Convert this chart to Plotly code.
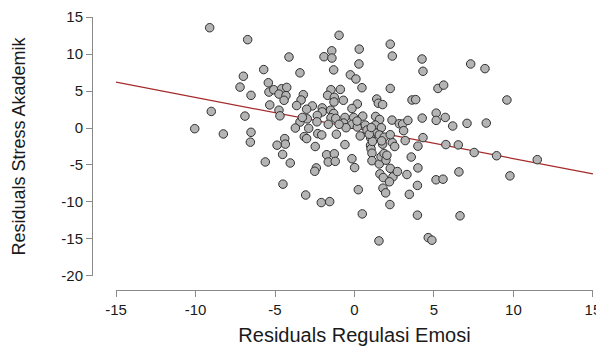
import plotly.graph_objects as go

# Residual values
regulasi_emosi = [
    -9.11, -6.72, -0.97, -1.43, 0.30, 2.25, 2.38, -1.92, -1.42, -4.12,
    0.28, -6.99, -5.71, -1.31, -3.43, -0.26, 0.09, -7.20, -6.51, -5.42,
    -5.38, -5.08, -4.58, -4.26, -4.75, -4.31, -4.43, -5.33, -9.01, -6.89,
    -4.75, -4.69, -10.05, -8.25, -6.51, -6.55, -3.22, -3.36, -3.64, -2.65,
    -3.01, -1.48, -0.89, -1.69, -1.27, -0.70, -1.29, 0.18, -0.16, -2.03,
    -2.03, -1.50, -1.31, -2.34, -2.97, -2.36, -1.48, -1.18, -0.60, 0.52,
    -0.05, -3.43, -3.72, -2.88, -2.31, -2.06, -1.14, -0.68, -0.16, -0.53,
    0.18, 0.36, 0.68, 0.79, 1.33, 1.58, 1.31, 1.69, 1.40, 1.50,
    2.25, 2.36, 1.31, 1.02, 1.56, 1.87, 2.38, 2.53, 2.25, 2.82,
    -3.16, -3.01, -2.47, -4.39, -4.35, -4.87, -4.52, -1.75, -1.27, -1.65,
    -1.21, -0.60, -0.16, 0.01, 1.01, 1.04, 1.10, 1.10, 1.56, 1.67,
    1.86, 1.98, 1.60, 2.25, 2.42, -5.61, -4.04, -2.40, -2.50, 1.81,
    2.70, 4.25, 4.31, 7.31, 8.21, 5.25, 5.61, 3.62, 3.85, 9.59,
    1.77, 3.03, 3.36, 3.09, 4.26, 5.14, 5.14, 5.71, 6.18, 7.08,
    8.29, 4.31, 3.99, 3.19, 5.75, 6.53, 7.53, 8.94, 11.50, 1.77,
    2.04, 3.57, 3.99, 3.30, 6.57, 9.78, 5.13, 5.57, -3.07, -2.09,
    -1.56, 0.24, 0.49, 1.54, 1.13, 1.79, 1.96, 2.20, 2.23, 3.96,
    3.45, 3.96, 0.93, 1.71, 6.64, 4.64, 4.87, -4.50, 0.47, -3.28,
    -1.65, -0.97, 0.16, 1.06,
]
stress_akademik = [
    13.56, 11.95, 12.54, 10.44, 10.67, 11.34, 9.73, 9.64, 9.46, 9.60,
    8.66, 7.00, 7.90, 7.86, 7.46, 7.19, 6.63, 5.53, 4.42, 6.12,
    4.86, 5.18, 5.31, 5.49, 4.59, 4.38, 3.75, 3.12, 2.24, 1.61,
    2.41, 1.65, -0.09, -0.80, -0.58, -1.91, 4.51, 3.79, 3.04, 2.99,
    2.54, 5.18, 5.22, 4.42, 4.15, 3.75, 3.52, 3.25, 2.64, 2.72,
    2.18, 2.41, 1.97, 1.70, 1.24, 0.84, 1.38, 1.30, 1.43, 1.61,
    1.43, 0.80, 0.00, -0.04, -0.76, -0.94, -0.84, 0.67, 0.50, 0.04,
    0.13, -1.07, 0.40, -0.27, 1.57, 1.16, 0.40, 0.04, 3.92, 3.35,
    5.35, 1.07, -0.67, -1.34, -0.94, -1.24, -1.97, -2.50, -0.90, 0.58,
    -1.16, -1.43, -2.50, -1.43, -2.18, -2.32, -3.57, -3.61, -3.48, -4.59,
    -4.51, -2.24, -4.15, -5.35, -2.34, -2.81, -3.41, -4.42, -4.86, -3.88,
    -3.44, -4.35, -6.20, -5.45, -6.60, -4.59, -4.73, -5.39, -5.85, -6.70,
    -5.89, 9.33, 7.67, 8.66, 8.03, 5.35, 5.80, 3.79, 3.84, 3.79,
    3.17, 0.54, 1.03, -0.36, 1.34, 2.01, 1.03, 1.43, 0.27, 0.63,
    0.67, -1.30, -2.45, -1.70, -2.24, -2.28, -3.31, -3.75, -4.28, -2.18,
    -3.68, -3.92, -5.39, -6.29, -5.93, -6.47, -7.00, -6.92, -9.06, -10.08,
    -9.95, -8.34, -11.61, -15.26, -1.81, -8.13, -8.77, -7.27, -10.35, -7.76,
    -8.97, -11.78, -0.84, -1.74, -11.87, -14.82, -15.17, -7.59, 5.45, 1.43,
    0.50, 0.50, 0.94, 0.07,
]

# Regression line end points
line_x = [-15, 15]
line_y = [6.2, -6.2]

x_ticks = [-15, -10, -5, 0, 5, 10, 15]
y_ticks = [-20, -15, -10, -5, 0, 5, 10, 15]

# the page body adds an 8px margin, so the figure is 8px smaller each way
W, H = 596, 341
font_family = "Liberation Sans, Arial, sans-serif"
axis_grey = "#8a8a8a"
text_col = "#1a1a1a"

fig = go.Figure()
fig.add_trace(go.Scatter(
    x=line_x, y=line_y, mode="lines",
    line=dict(color="#a52a2a", width=1.3),
    hoverinfo="skip", showlegend=False,
))
fig.add_trace(go.Scatter(
    x=regulasi_emosi, y=stress_akademik, mode="markers",
    marker=dict(symbol="circle", size=8.5, color="#b4b4b4",
                line=dict(color="#303030", width=1)),
    showlegend=False, cliponaxis=False,
))

fig.update_layout(
    width=W, height=H,
    margin=dict(l=84, r=4, t=6, b=59, autoexpand=False),
    paper_bgcolor="white", plot_bgcolor="white",
    font=dict(family=font_family, size=15, color=text_col),
    xaxis=dict(
        domain=[0.0472, 0.9862],
        range=[-15.005, 15.005],
        tickvals=x_ticks,
        ticktext=[str(v) for v in x_ticks],
        showgrid=False, zeroline=False, automargin=False,
        showline=True, linecolor=axis_grey, linewidth=1,
        ticks="outside", ticklen=6, tickcolor=axis_grey, tickwidth=1,
        anchor="free", position=0,
        tickfont=dict(size=15, color=text_col),
        title=dict(text="Residuals Regulasi Emosi",
                   font=dict(size=20, color=text_col), standoff=10),
    ),
    yaxis=dict(
        domain=[0.0507, 0.9891],
        range=[-20.01, 15.01],
        tickvals=y_ticks,
        ticktext=[str(v) for v in y_ticks],
        showgrid=False, zeroline=False, automargin=False,
        showline=True, linecolor=axis_grey, linewidth=1,
        ticks="outside", ticklen=6, tickcolor=axis_grey, tickwidth=1,
        anchor="free", position=0,
        ticklabeloverflow="allow",
        tickfont=dict(size=15, color=text_col),
        title=dict(text="Residuals Stress Akademik",
                   font=dict(size=18, color=text_col), standoff=30),
    ),
)

fig.write_html("out.html")
